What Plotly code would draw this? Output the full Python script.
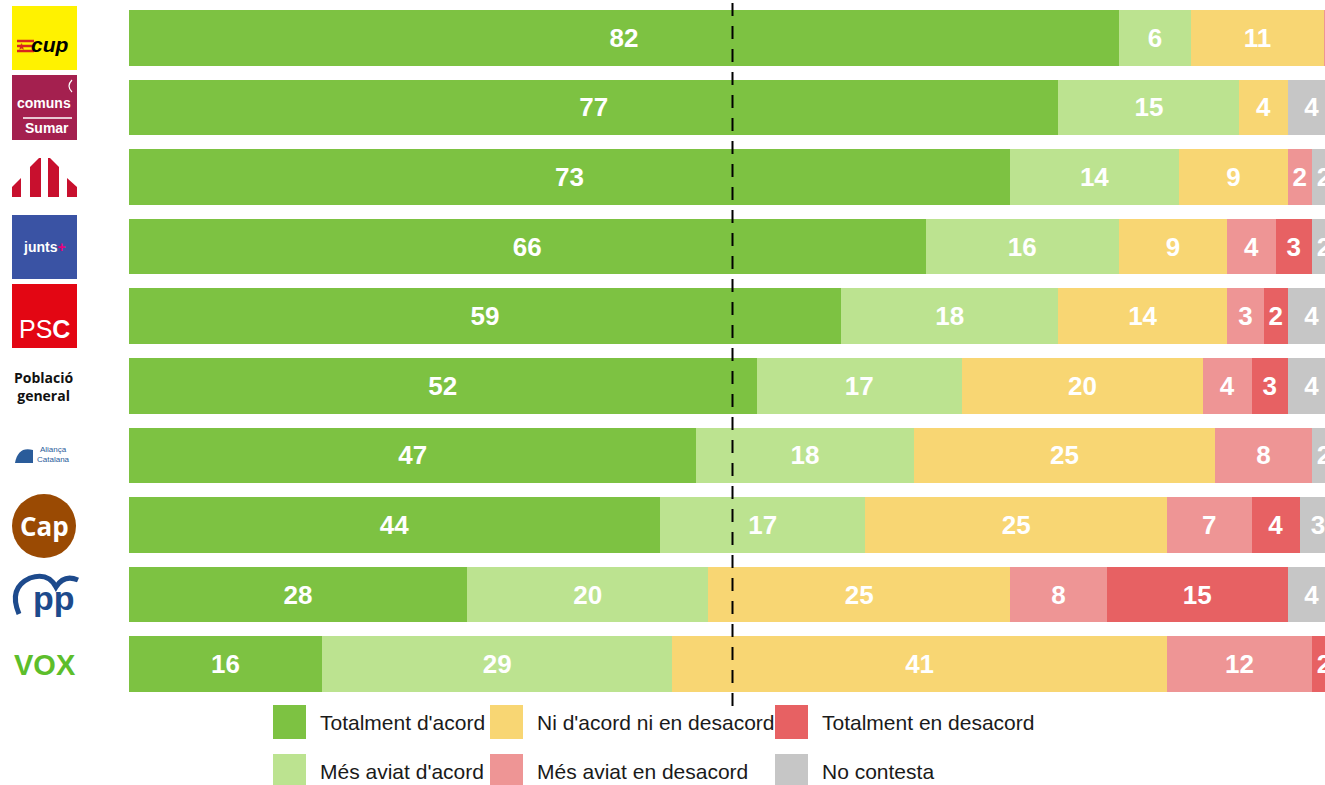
import plotly.graph_objects as go

# ---------------- data ----------------
groups = ["CUP", "Comuns-Sumar", "ERC", "Junts", "PSC", "Població general",
          "Aliança Catalana", "Cap", "PP", "VOX"]
series_names = ["Totalment d'acord", "Més aviat d'acord", "Ni d'acord ni en desacord",
                "Més aviat en desacord", "Totalment en desacord", "No contesta"]
totalment_acord = [82, 77, 73, 66, 59, 52, 47, 44, 28, 16]
mes_aviat_acord = [6, 15, 14, 16, 18, 17, 18, 17, 20, 29]
ni_acord_ni_desacord = [11, 4, 9, 9, 14, 20, 25, 25, 25, 41]
mes_aviat_desacord = [1, 0, 2, 4, 3, 4, 8, 7, 8, 12]
totalment_desacord = [0, 0, 0, 3, 2, 3, 0, 4, 15, 2]
no_contesta = [0, 4, 2, 2, 4, 4, 2, 3, 4, 0]
reference_line = 50

series_values = [totalment_acord, mes_aviat_acord, ni_acord_ni_desacord,
                 mes_aviat_desacord, totalment_desacord, no_contesta]
colors = ["#7DC242", "#BCE390", "#F8D673", "#EE9595", "#E76163", "#C6C6C6"]

W, H = 1325, 785
ML, MR, MT, MB = 129, 0, 3, 86
PW, PH = W - ML - MR, H - MT - MB


def px(x):
    return (x - ML) / PW


def py(y):
    return (H - MB - y) / PH


fig = go.Figure()
for name, vals, col in zip(series_names, series_values, colors):
    fig.add_trace(go.Bar(
        y=groups, x=vals, name=name, orientation="h",
        marker=dict(color=col, line=dict(width=0)),
        text=[str(v) if v >= 2 else "" for v in vals],
        textposition="inside", insidetextanchor="middle",
        textfont=dict(color="white", size=26, family="Liberation Sans", weight="bold"),
        showlegend=False,
        hovertemplate="%{y}<br>" + name + ": %{x}<extra></extra>",
    ))

shapes = []
annotations = []

# dashed reference line
shapes.append(dict(type="line", xref="x", yref="paper", x0=reference_line, x1=reference_line,
                   y0=py(706), y1=py(0), line=dict(color="black", width=2, dash="13px,10px")))

# manual legend (3 columns x 2 rows)
col_x = [273, 490, 775]
row_y = [705, 754]
for i, (name, col) in enumerate(zip(series_names, colors)):
    c, r = i // 2, i % 2
    x0, y0 = col_x[c], row_y[r]
    shapes.append(dict(type="rect", xref="paper", yref="paper",
                       x0=px(x0), x1=px(x0 + 33), y0=py(y0), y1=py(y0 + 34),
                       fillcolor=col, line=dict(width=0)))
    annotations.append(dict(xref="paper", yref="paper", x=px(x0 + 45), y=py(y0 + 17),
                            text=name, showarrow=False, xanchor="left", yanchor="middle",
                            font=dict(family="Liberation Sans", size=21, color="#1a1a1a")))


def rect(x0, y0, x1, y1, color):
    shapes.append(dict(type="rect", xref="paper", yref="paper", x0=px(x0), x1=px(x1),
                       y0=py(y1), y1=py(y0), fillcolor=color, line=dict(width=0), layer="above"))


def poly(points, color):
    d = "M " + " L ".join(f"{px(a):.5f},{py(b):.5f}" for a, b in points) + " Z"
    shapes.append(dict(type="path", xref="paper", yref="paper", path=d,
                       fillcolor=color, line=dict(width=0)))


def label(x, y, text, size, color, family="Liberation Sans", anchor="center"):
    annotations.append(dict(xref="paper", yref="paper", x=px(x), y=py(y), text=text,
                            showarrow=False, xanchor=anchor, yanchor="middle",
                            font=dict(family=family, size=size, color=color)))


# CUP logo
rect(12, 6, 77, 70, "#FFF200")
for yy in (41, 46, 51):
    shapes.append(dict(type="line", xref="paper", yref="paper", x0=px(17), x1=px(34),
                       y0=py(yy), y1=py(yy), line=dict(color="#D7261E", width=2.5)))
label(21, 46, "★", 10, "#D7261E")
label(50, 45, "<b><i>cup</i></b>", 21, "black")

# Comuns-Sumar logo
rect(12, 75, 77, 140, "#A4204F")
label(44, 103, "<b>comuns</b>", 14, "white")
shapes.append(dict(type="line", xref="paper", yref="paper", x0=px(23), x1=px(72),
                   y0=py(118), y1=py(118), line=dict(color="white", width=1.5)))
label(47, 128, "<b>Sumar</b>", 14, "white")
shapes.append(dict(type="path", xref="paper", yref="paper",
                   path=f"M {px(72):.5f},{py(80):.5f} Q {px(66):.5f},{py(86):.5f} {px(72):.5f},{py(92):.5f}",
                   line=dict(color="white", width=1.2)))

# ERC logo
erc = "#C8102E"
poly([(12, 187), (21, 178), (21, 197), (12, 197)], erc)
poly([(30, 167), (39, 158), (41, 158), (41, 197), (30, 197)], erc)
poly([(48, 158), (50, 158), (59, 167), (59, 197), (48, 197)], erc)
poly([(67, 178), (77, 187), (77, 197), (67, 197)], erc)

# Junts logo
rect(12, 215, 77, 279, "#3A53A4")
label(44, 247, "<b>junts<span style='color:#E6007E'>+</span></b>", 14, "white")

# PSC logo
rect(12, 284, 77, 348, "#E30613")
label(44, 329, "PS<b>C</b>", 25, "white")

# Població general
label(44, 386, "<b>Població<br>general</b>", 14, "#111111", family="Open Sans")

# Aliança Catalana logo
shapes.append(dict(type="path", xref="paper", yref="paper",
                   path=(f"M {px(15):.5f},{py(463):.5f} Q {px(18):.5f},{py(446):.5f} {px(33):.5f},{py(450):.5f} "
                         f"L {px(33):.5f},{py(463):.5f} Z"),
                   fillcolor="#2A5C9A", line=dict(width=0)))
label(53, 455, "Aliança<br>Catalana", 8, "#2A5C9A")

# Cap logo
shapes.append(dict(type="circle", xref="paper", yref="paper",
                   x0=px(12), x1=px(76), y0=py(558), y1=py(494),
                   fillcolor="#9A4A03", line=dict(width=0)))
label(44, 526, "<b>Cap</b>", 26, "white", family="Open Sans")

# PP logo
shapes.append(dict(type="path", xref="paper", yref="paper",
                   path=(f"M {px(19):.5f},{py(614):.5f} Q {px(8):.5f},{py(588):.5f} {px(30):.5f},{py(578):.5f} "
                         f"Q {px(48):.5f},{py(572):.5f} {px(56):.5f},{py(587):.5f} "
                         f"Q {px(64):.5f},{py(574):.5f} {px(78):.5f},{py(580):.5f}"),
                   line=dict(color="#1D4A8C", width=5)))
label(54, 598, "<b>pp</b>", 34, "#1D4A8C")

# VOX logo
label(45, 665, "<b>VOX</b>", 29, "#5DBE2B")

fig.update_layout(
    width=W, height=H, barmode="stack", bargap=0.2,
    margin=dict(l=ML, r=MR, t=MT, b=MB),
    plot_bgcolor="white", paper_bgcolor="white",
    xaxis=dict(range=[0, PW / 12.07], visible=False, fixedrange=True),
    yaxis=dict(autorange="reversed", showticklabels=False, showgrid=False,
               zeroline=False, ticks=""),
    uniformtext=dict(minsize=26, mode="show"),
    shapes=shapes, annotations=annotations,
)

fig.write_html("out.html", config={"displayModeBar": False},
               post_script="document.body.style.margin='0px';document.body.style.overflow='hidden';")
